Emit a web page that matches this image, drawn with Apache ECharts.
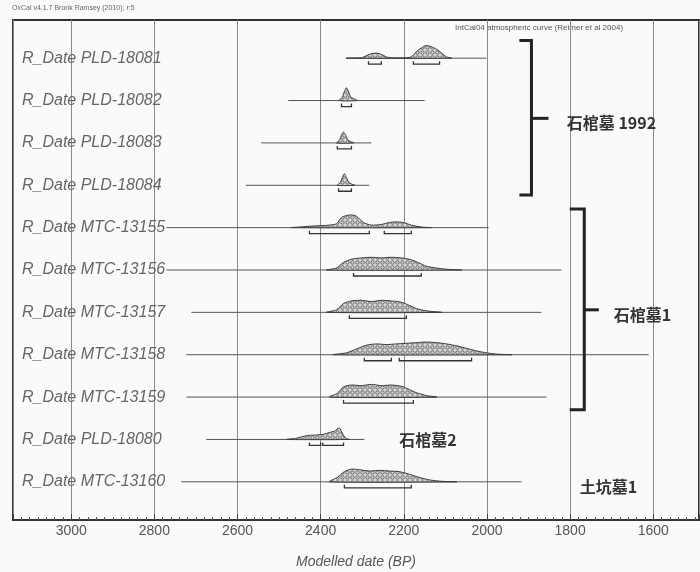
<!DOCTYPE html>
<html><head><meta charset="utf-8">
<script src="https://cdn.jsdelivr.net/npm/echarts@6/dist/echarts.min.js"></script>
<style>html,body{margin:0;padding:0;background:#fafafa}#c{width:700px;height:572px}</style>
</head><body><div id="c"></div>
<script>
// ---- data (years BP) ----
const sampleNames = [
  'R_Date PLD-18081','R_Date PLD-18082','R_Date PLD-18083','R_Date PLD-18084',
  'R_Date MTC-13155','R_Date MTC-13156','R_Date MTC-13157','R_Date MTC-13158',
  'R_Date MTC-13159','R_Date PLD-18080','R_Date MTC-13160'
];
const lineStart = [2338, 2478, 2543, 2580, 2771, 2771, 2711, 2723, 2723, 2675, 2735];
const lineEnd   = [2001, 2150, 2278, 2283, 1996, 1821, 1869, 1611, 1857, 2295, 1917];

const dPLD18081 = [[2338,0],[2302,0.03],[2290,0.2],[2278,0.35],[2266,0.4],[2254,0.3],[2242,0.1],[2230,0.03],[2206,0.02],[2182,0.1],[2170,0.5],[2158,0.8],[2146,1.0],[2134,0.9],[2121,0.7],[2109,0.4],[2097,0.1],[2085,0]];
const dPLD18082 = [[2356,0],[2348,0.25],[2343,0.7],[2338,1.0],[2333,0.7],[2328,0.3],[2321,0.15],[2312,0]];
const dPLD18083 = [[2362,0],[2355,0.2],[2350,0.6],[2345,0.85],[2340,0.6],[2335,0.25],[2328,0.1],[2320,0]];
const dPLD18084 = [[2360,0],[2353,0.2],[2348,0.6],[2343,0.9],[2338,0.6],[2333,0.25],[2326,0.1],[2318,0]];
const dMTC13155 = [[2470,0],[2446,0.06],[2422,0.12],[2386,0.18],[2362,0.3],[2350,0.8],[2338,0.95],[2326,1.0],[2314,0.9],[2297,0.4],[2278,0.2],[2254,0.25],[2235,0.4],[2218,0.45],[2201,0.4],[2182,0.2],[2158,0.05],[2134,0]];
const dMTC13156 = [[2386,0],[2362,0.15],[2345,0.6],[2326,0.85],[2302,0.95],[2278,1.0],[2254,0.95],[2230,1.0],[2206,0.95],[2182,0.8],[2163,0.55],[2146,0.3],[2121,0.15],[2097,0.06],[2061,0]];
const dMTC13157 = [[2386,0],[2362,0.2],[2345,0.7],[2326,0.9],[2302,0.95],[2278,0.85],[2254,0.95],[2230,0.9],[2206,0.8],[2187,0.55],[2170,0.3],[2146,0.12],[2109,0]];
const dMTC13158 = [[2370,0],[2338,0.15],[2314,0.45],[2290,0.75],[2266,0.85],[2242,0.8],[2218,0.85],[2194,0.9],[2170,0.95],[2146,1.0],[2121,0.95],[2097,0.85],[2073,0.7],[2049,0.5],[2025,0.3],[2001,0.15],[1977,0.05],[1941,0]];
const dMTC13159 = [[2379,0],[2360,0.3],[2345,0.8],[2326,0.95],[2302,0.9],[2278,1.0],[2254,0.9],[2230,0.95],[2206,0.85],[2187,0.6],[2170,0.35],[2146,0.12],[2121,0]];
const dPLD18080 = [[2482,0],[2458,0.1],[2434,0.3],[2410,0.35],[2393,0.4],[2379,0.55],[2367,0.65],[2355,0.9],[2348,0.5],[2340,0.1],[2331,0]];
const dMTC13160 = [[2379,0],[2360,0.35],[2343,0.8],[2326,1.0],[2307,0.95],[2283,0.85],[2259,0.9],[2235,0.85],[2211,0.8],[2187,0.6],[2163,0.35],[2138,0.15],[2109,0.04],[2073,0]];
const densities = [dPLD18081,dPLD18082,dPLD18083,dPLD18084,dMTC13155,dMTC13156,dMTC13157,dMTC13158,dMTC13159,dPLD18080,dMTC13160];

const ranges95 = [
  [[2285,2254],[2177,2114]],
  [[2350,2326]],
  [[2360,2326]],
  [[2357,2326]],
  [[2427,2283],[2247,2182]],
  [[2321,2158]],
  [[2331,2194]],
  [[2295,2230],[2211,2037]],
  [[2345,2177]],
  [[2427,2400],[2395,2345]],
  [[2343,2182]]
];
const groupLabels = ['石棺墓 1992', '石棺墓1', '石棺墓2', '土坑墓1'];
const xMin = 1490, xMax = 3140;

// ---- pattern for distributions ----
const pc = document.createElement('canvas');
pc.width = 5; pc.height = 5;
const pctx = pc.getContext('2d');
pctx.fillStyle = '#d4d4d4'; pctx.fillRect(0,0,5,5);
pctx.strokeStyle = '#5e5e5e'; pctx.lineWidth = 0.9;
pctx.beginPath(); pctx.arc(2.5,2.5,1.7,0,Math.PI*2); pctx.stroke();
const pattern = {image: pc, repeat: 'repeat'};

function renderRow(params, api) {
  const i = api.value(0);
  const band = api.size([0, 1])[1];
  const hScale = band * 0.30;
  const ch = [];
  const a = api.coord([lineStart[i], i]), b = api.coord([lineEnd[i], i]);
  ch.push({type:'line', shape:{x1:a[0], y1:a[1], x2:b[0], y2:b[1]}, style:{stroke:'#555', lineWidth:1}});
  const d = densities[i];
  const pts = d.map(p => { const c = api.coord([p[0], i]); return [c[0], c[1] - p[1]*hScale]; });
  ch.push({type:'polygon', shape:{points:pts, smooth:0.25}, style:{fill:pattern, stroke:'#3a3a3a', lineWidth:1}});
  for (const r of ranges95[i]) {
    const p1 = api.coord([r[0], i]), p2 = api.coord([r[1], i]);
    const y = p1[1] + 6;
    ch.push({type:'polyline', shape:{points:[[p1[0], y-3],[p1[0], y],[p2[0], y],[p2[0], y-3]]}, style:{stroke:'#333', lineWidth:1.3, fill:null}});
  }
  return {type:'group', children:ch};
}

function renderNotes(params, api) {
  const y0 = api.coord([2000, 0])[1], y1 = api.coord([2000, 1])[1];
  const yAt = r => y0 + (y1 - y0) * r;
  const xAt = v => api.coord([v, 0])[0];
  const st = {stroke:'#222', lineWidth:3, fill:null};
  const font = {fontSize:16, fontWeight:'bold', fontFamily:'"Noto Sans CJK SC", sans-serif', fill:'#333', align:'left', verticalAlign:'middle'};
  const ch = [];
  // bracket 1
  ch.push({type:'polyline', shape:{points:[[xAt(1922), yAt(-0.42)],[xAt(1893), yAt(-0.42)],[xAt(1893), yAt(3.23)],[xAt(1922), yAt(3.23)]]}, style:st});
  ch.push({type:'line', shape:{x1:xAt(1893), y1:yAt(1.42), x2:xAt(1852), y2:yAt(1.42)}, style:st});
  ch.push({type:'text', x:xAt(1808), y:yAt(1.53), style:Object.assign({text:groupLabels[0]}, font)});
  // bracket 2
  ch.push({type:'polyline', shape:{points:[[xAt(1801), yAt(3.56)],[xAt(1766), yAt(3.56)],[xAt(1766), yAt(8.30)],[xAt(1801), yAt(8.30)]]}, style:st});
  ch.push({type:'line', shape:{x1:xAt(1766), y1:yAt(5.94), x2:xAt(1731), y2:yAt(5.94)}, style:st});
  ch.push({type:'text', x:xAt(1695), y:yAt(6.05), style:Object.assign({text:groupLabels[1]}, font)});
  ch.push({type:'text', x:xAt(2211), y:yAt(9.0), style:Object.assign({text:groupLabels[2]}, font)});
  ch.push({type:'text', x:xAt(1777), y:yAt(10.12), style:Object.assign({text:groupLabels[3]}, font)});
  return {type:'group', children:ch};
}

const chart = echarts.init(document.getElementById('c'), null, {renderer:'canvas'});
chart.setOption({
  backgroundColor:'#fafafa',
  animation:false,
  graphic:[
    {type:'text', left:12, top:5, style:{text:'OxCal v4.1.7 Bronk Ramsey (2010); r:5', fontSize:7, fill:'#666', fontFamily:'Liberation Sans'}},
    {type:'text', left:455, top:24, style:{text:'IntCal04 atmospheric curve (Reimer et al 2004)', fontSize:8, fill:'#555', fontFamily:'Liberation Sans'}}
  ],
  grid:[
    {left:13, right:1, top:20, bottom:52, show:true, borderColor:'#333', borderWidth:2, backgroundColor:'transparent', containLabel:false, outerBoundsMode:'none'},
    {left:13, right:1, top:37, bottom:69, containLabel:false, outerBoundsMode:'none'}
  ],
  xAxis:[
    {type:'value', gridIndex:0, min:xMin, max:xMax, inverse:true, splitNumber:8,
     axisLine:{show:true, lineStyle:{color:'#333', width:2}},
     axisTick:{show:true, inside:true, length:6, lineStyle:{color:'#444'}},
     minorTick:{show:true, splitNumber:10, length:3, lineStyle:{color:'#555'}},
     axisLabel:{showMinLabel:false, showMaxLabel:false, margin:4, fontSize:14, color:'#555', fontFamily:'Liberation Sans',
       formatter: v => String(v)},
     splitLine:{show:true, lineStyle:{color:'#8a8a8a', width:1}},
     name:'Modelled date (BP)', nameLocation:'middle', nameGap:35,
     nameTextStyle:{fontSize:14, fontStyle:'italic', color:'#555', fontFamily:'Liberation Sans'}},
    {type:'value', gridIndex:1, min:xMin, max:xMax, inverse:true, show:false, splitLine:{show:false}}
  ],
  yAxis:[
    {type:'value', gridIndex:0, show:false, splitLine:{show:false}},
    {type:'category', gridIndex:1, data:sampleNames, inverse:true,
     axisLine:{show:false}, axisTick:{show:false}, splitLine:{show:false},
     axisLabel:{inside:true, margin:9, fontSize:16, fontStyle:'italic', color:'#666', fontFamily:'Liberation Sans'}}
  ],
  series:[
    {type:'custom', xAxisIndex:1, yAxisIndex:1, renderItem:renderRow, data:sampleNames.map((n, i) => [i]), encode:{x:-1, y:0}, clip:true, silent:true, z:3},
    {type:'custom', xAxisIndex:1, yAxisIndex:1, renderItem:renderNotes, data:[[0]], encode:{x:-1, y:0}, silent:true, z:4}
  ]
});
</script>
</body></html>
